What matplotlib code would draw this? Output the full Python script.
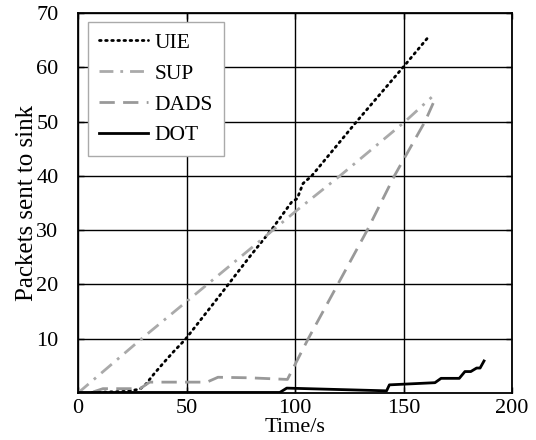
import matplotlib
matplotlib.use("Agg")
import matplotlib.pyplot as plt

plt.rcParams['font.family'] = ['Liberation Serif', 'DejaVu Serif']

# ---- data ----
uie_x = [6.5, 15, 22, 28.5, 31, 35, 39.3, 44, 49.3, 55.4, 65, 79.3, 89.4, 98.5, 101, 103.7, 107.7, 128.4, 149.8, 161.3]
uie_y = [0.1, 0.2, 0.3, 0.7, 1.5, 3.5, 5.5, 7.6, 9.8, 12.9, 17.8, 25.2, 30.2, 35.2, 35.8, 38.6, 40, 50, 60, 65.5]

sup_x = [0, 29.3, 74.7, 101, 120.7, 150.7, 163]
sup_y = [0, 10, 25.0, 33.7, 40, 50, 54.5]

dads_x = [7, 11.5, 28.6, 33, 59.4, 64.5, 79, 96.5, 106.1, 119.7, 133.3, 145.8, 159.9, 163.7]
dads_y = [0.2, 0.8, 0.8, 2.0, 2.0, 2.9, 2.8, 2.5, 10, 20, 30, 40, 50, 53.4]

dot_x = [0, 93, 96.2, 142.2, 143.5, 164.5, 167.3, 175.7, 178.3, 181, 183.7, 185.3, 187.1]
dot_y = [0.1, 0.1, 0.9, 0.4, 1.5, 1.9, 2.7, 2.7, 3.95, 3.95, 4.6, 4.6, 5.9]

x_ticks = [0, 50, 100, 150, 200]
y_ticks = [10, 20, 30, 40, 50, 60, 70]
x_label = "Time/s"
y_label = "Packets sent to sink"

fig = plt.figure(figsize=(5.36, 4.40), dpi=100)
ax = fig.add_axes([78/536, 47/440, 434/536, 380/440])

ax.plot(uie_x, uie_y, color='black', linestyle=(0, (0.6, 1.6)), dash_capstyle='round', lw=2.0, label='UIE')
ax.plot(sup_x, sup_y, color='#aaaaaa', linestyle=(0, (5, 2.5, 1, 2.5)), lw=2.0, label='SUP')
ax.plot(dads_x, dads_y, color='#999999', linestyle=(0, (5.5, 3)), lw=2.0, label='DADS')
ax.plot(dot_x, dot_y, color='black', linestyle='-', lw=2.0, label='DOT')

ax.set_xlim(0, 200)
ax.set_ylim(0, 70)
ax.set_xticks(x_ticks)
ax.set_yticks(y_ticks)
ax.grid(True, color='black', lw=1.0)
ax.set_axisbelow(True)
ax.tick_params(direction='in', length=4, width=1, labelsize=16, top=True, right=True, pad=4)
ax.tick_params(axis='y', pad=14)
for s in ax.spines.values():
    s.set_linewidth(1.3)

ax.set_xlabel(x_label, fontsize=16, labelpad=0)
ax.set_ylabel(y_label, fontsize=18, labelpad=-1)

leg = ax.legend(loc='upper left', bbox_to_anchor=(0.023, 0.976), borderaxespad=0, fontsize=15.5,
                frameon=True, fancybox=False, edgecolor='#aaaaaa', framealpha=1,
                handlelength=2.3, handletextpad=0.3, labelspacing=0.5, borderpad=0.5)
leg.get_frame().set_linewidth(1.0)

fig.savefig('out.png', dpi=100)
